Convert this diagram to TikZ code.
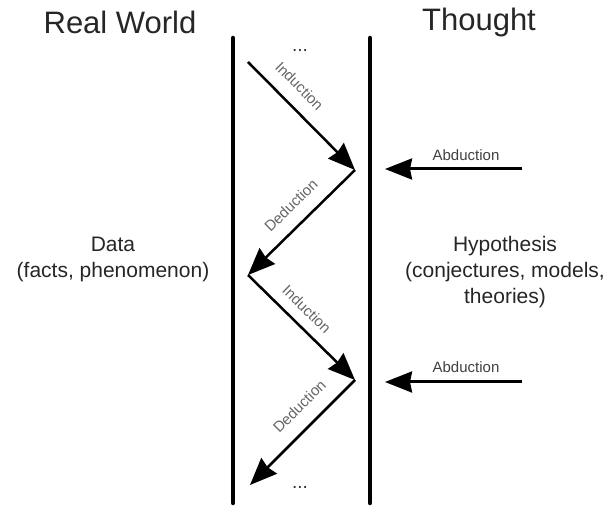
\documentclass[tikz,border=0pt]{standalone}
\usepackage{fontspec}
\setmainfont{Liberation Sans}
\usetikzlibrary{arrows.meta}
\begin{document}
\begin{tikzpicture}[x=1pt,y=1pt,
  bar/.style={line width=4.5pt,line cap=round},
  arr/.style={line width=2.5pt,-{Stealth[length=27pt,width=22pt,inset=2pt]}},
  abd/.style={line width=3pt,-{Stealth[length=27pt,width=21pt,inset=2pt]}},
  lbl/.style={font=\fontsize{15}{17}\selectfont,text=black!60,inner sep=0pt},
  albl/.style={font=\fontsize{15}{17}\selectfont,text=black!75,inner sep=0pt},
  title/.style={font=\fontsize{31}{36}\selectfont,text=black!85,inner sep=0pt},
  body/.style={font=\fontsize{21}{26}\selectfont,text=black!85,align=center,inner sep=0pt},
  dots/.style={font=\fontsize{19}{21}\selectfont,text=black!80,inner sep=0pt}]
\useasboundingbox (0,0) rectangle (611,506);
% vertical bars
\coordinate (l1) at (233,468); \coordinate (l2) at (233,3);
\coordinate (r1) at (370,468); \coordinate (r2) at (370,3);
\draw[bar] (l1) -- (l2);
\draw[bar] (r1) -- (r2);
% titles
\node[title] (rw) at (120,484) {Real World};
\node[title] (th) at (479,484) {Thought};
% side texts
\node[body] (data) at (113,247) {Data\\(facts, phenomenon)};
\node[body] (hyp) at (505,234) {Hypothesis\\(conjectures, models,\\theories)};
% zigzag
\coordinate (p0) at (248,444);
\coordinate (p1) at (355,336);
\coordinate (p2) at (248,231);
\coordinate (p3) at (355,126);
\coordinate (p4) at (250,21);
\node[dots] (dtop) at (300,456) {...};
\node[dots] (dbot) at (300,19) {...};
\draw[arr] (p0) -- node[lbl,sloped,pos=0.35,above=13pt] {Induction} (p1);
\draw[arr] (p1) -- node[lbl,sloped,pos=0.47,above=13pt] {Deduction} (p2);
\draw[arr] (p2) -- node[lbl,sloped,pos=0.44,above=10pt] {Induction} (p3);
\draw[arr] (p3) -- node[lbl,sloped,pos=0.39,above=14pt] {Deduction} (p4);
% abduction
\coordinate (a1s) at (522,337); \coordinate (a1e) at (385,337);
\coordinate (a2s) at (522,124); \coordinate (a2e) at (385,124);
\draw[abd] (a1s) -- (a1e);
\draw[abd] (a2s) -- (a2e);
\node[albl] (ab1) at (466,351) {Abduction};
\node[albl] (ab2) at (466,139) {Abduction};
\end{tikzpicture}
\end{document}
